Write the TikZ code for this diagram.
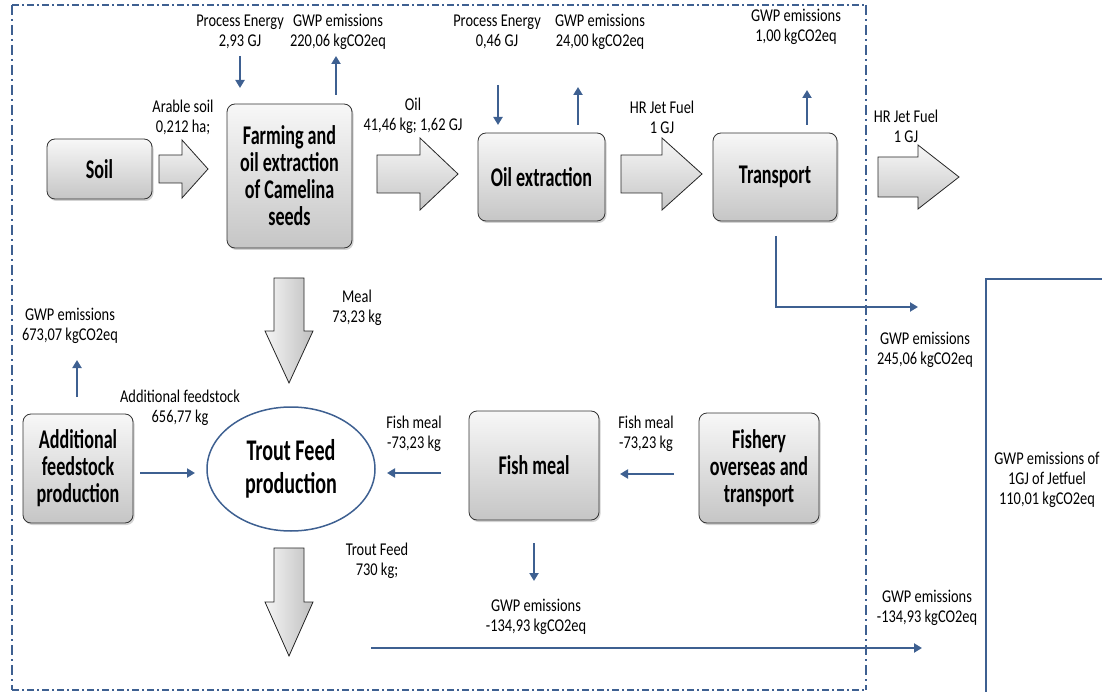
\documentclass[tikz,border=0pt]{standalone}
\usepackage{fontspec}
\setmainfont{Carlito}[FakeStretch=0.8]
\newfontfamily\boxfont{Carlito}[FakeStretch=0.67]
\usetikzlibrary{arrows.meta,shadows,shapes.geometric}
\definecolor{flow}{RGB}{62,96,145}
\tikzset{
  procbox/.style={draw=black!80, line width=0.8pt, rounded corners=8pt,
    top color=gray!6, bottom color=gray!45,
    drop shadow={opacity=0.35, shadow xshift=1.5pt, shadow yshift=-2pt},
    align=center, inner sep=0pt, font=\boxfont\bfseries\fontsize{27}{27}\selectfont},
  lbl/.style={align=center, inner sep=0pt, font=\fontsize{18}{20}\selectfont},
  flowarrow/.style={draw=flow, line width=2pt, -{Triangle[length=8pt,width=9pt]}},
  flowline/.style={draw=flow, line width=2pt},
  hblock/.style={draw=black!85, line width=0.8pt, top color=gray!6, bottom color=gray!45},
  vblock/.style={draw=black!85, line width=0.8pt, left color=gray!8, right color=gray!50},
  hborder/.style={draw=flow, line width=1.8pt, dash pattern=on 7pt off 3pt on 2pt off 3pt},
  vborder/.style={draw=flow, line width=1.8pt, dash pattern=on 10pt off 4pt on 2pt off 4pt},
}
\begin{document}
\begin{tikzpicture}[x=1pt, y=-1pt]
\useasboundingbox (0,0) rectangle (1102,692);

% system boundary (dash-dot frame)
\draw[hborder] (12,5) -- (866,5);
\draw[hborder] (12,690) -- (866,690);
\draw[vborder] (12,5) -- (12,690);
\draw[vborder] (866,5) -- (866,690);

% process boxes
\node[procbox, minimum width=105pt, minimum height=60pt] (soil) at (99.5,169) {Soil};
\node[procbox, minimum width=125pt, minimum height=144pt] (farm) at (289.5,176)
  {Farming and\\oil extraction\\of Camelina\\seeds};
\node[procbox, minimum width=127pt, minimum height=88pt] (oilx) at (541.5,177) {Oil extraction};
\node[procbox, minimum width=124pt, minimum height=88pt] (transp) at (775,177) {Transport};
\node[procbox, minimum width=110pt, minimum height=109pt] (addfeed) at (78,468.5)
  {Additional\\feedstock\\production};
\node[procbox, minimum width=130pt, minimum height=109pt] (fishmeal) at (534,465.5) {Fish meal};
\node[procbox, minimum width=120pt, minimum height=110pt] (fishery) at (759,468)
  {Fishery\\overseas and\\transport};
\node[draw=flow, line width=1.5pt, ellipse, minimum width=168pt, minimum height=124pt,
  inner sep=0pt, align=center, font=\boxfont\bfseries\fontsize{30}{33}\selectfont]
  (trout) at (291,469) {Trout Feed\\production};

% block arrows for the main material flows
\path[hblock] (159,155) -- (182,155) -- (182,140) -- (208,169) -- (182,198) -- (182,183) -- (159,183) -- cycle;
\path[hblock] (377,155) -- (420,155) -- (420,138) -- (458,174) -- (420,210) -- (420,193) -- (377,193) -- cycle;
\path[hblock] (621,155) -- (662,155) -- (662,138) -- (702,174) -- (662,210) -- (662,193) -- (621,193) -- cycle;
\path[hblock] (878,157) -- (918,157) -- (918,145) -- (959,177) -- (918,209) -- (918,197) -- (878,197) -- cycle;
\path[vblock] (274,278) -- (304,278) -- (304,331) -- (313,331) -- (289,383) -- (265,331) -- (274,331) -- cycle;
\path[vblock] (274,548) -- (304,548) -- (304,602) -- (313,602) -- (289,656) -- (265,602) -- (274,602) -- cycle;

% flow labels
\node[lbl] (pe1) at (240,32) {Process Energy\\2,93 GJ};
\node[lbl] (gwp1) at (338,32) {GWP emissions\\220,06 kgCO2eq};
\node[lbl] (pe2) at (497,32) {Process Energy\\0,46 GJ};
\node[lbl] (gwp2) at (600,32) {GWP emissions\\24,00 kgCO2eq};
\node[lbl] (gwp3) at (796,27) {GWP emissions\\1,00 kgCO2eq};
\node[lbl] (arable) at (183,117) {Arable soil\\0,212 ha;};
\node[lbl] (oil) at (413,116) {Oil\\41,46 kg; 1,62 GJ};
\node[lbl] (hr1) at (662,117) {HR Jet Fuel\\1 GJ};
\node[lbl] (hr2) at (906,126) {HR Jet Fuel\\1 GJ};
\node[lbl] (gwpt) at (925,350) {GWP emissions\\245,06 kgCO2eq};
\node[lbl] (total) at (1047,480) {GWP emissions of\\1GJ of Jetfuel\\110,01 kgCO2eq};
\node[lbl] (gwpf2) at (927,608) {GWP emissions\\-134,93 kgCO2eq};
\node[lbl] (gwpf1) at (536,617) {GWP emissions\\-134,93 kgCO2eq};
\node[lbl] (tfeed) at (377,561) {Trout Feed\\730 kg;};
\node[lbl] (fm1) at (414,434) {Fish meal\\-73,23 kg};
\node[lbl] (fm2) at (646,434) {Fish meal\\-73,23 kg};
\node[lbl] (addl) at (180,408) {Additional feedstock\\656,77 kg};
\node[lbl] (gwpa) at (70,326) {GWP emissions\\673,07 kgCO2eq};
\node[lbl] (meal) at (357,308) {Meal\\73,23 kg};

% end points of the energy and emission flows
\coordinate (pe1a) at (240,56);  \coordinate (pe1b) at (240,88);
\coordinate (g1a) at (336,95);   \coordinate (g1b) at (336,56);
\coordinate (pe2a) at (498,85);  \coordinate (pe2b) at (498,125);
\coordinate (g2a) at (578,125);  \coordinate (g2b) at (578,87);
\coordinate (g3a) at (807,125);  \coordinate (g3b) at (807,90);
\coordinate (gta) at (776,236);  \coordinate (gtc) at (776,307); \coordinate (gtb) at (918,307);
\coordinate (gaa) at (77,397);   \coordinate (gab) at (77,360);
\coordinate (afa) at (140,473);  \coordinate (afb) at (195,473);
\coordinate (fma) at (441,473);  \coordinate (fmb) at (387,473);
\coordinate (fya) at (674,474);  \coordinate (fyb) at (620,474);
\coordinate (gfa) at (534,543);  \coordinate (gfb) at (534,581);
\coordinate (bla) at (371,648);  \coordinate (blb) at (922,648);
\coordinate (bra) at (1102,279); \coordinate (brc) at (986,279); \coordinate (brb) at (986,692);

\draw[flowarrow] (pe1a) -- (pe1b);
\draw[flowarrow] (g1a) -- (g1b);
\draw[flowarrow] (pe2a) -- (pe2b);
\draw[flowarrow] (g2a) -- (g2b);
\draw[flowarrow] (g3a) -- (g3b);
\draw[flowarrow] (gta) -- (gtc) -- (gtb);
\draw[flowarrow] (gaa) -- (gab);
\draw[flowarrow] (afa) -- (afb);
\draw[flowarrow] (fma) -- (fmb);
\draw[flowarrow] (fya) -- (fyb);
\draw[flowarrow] (gfa) -- (gfb);
\draw[flowarrow] (bla) -- (blb);
\draw[flowline] (bra) -- (brc) -- (brb);
\end{tikzpicture}
\end{document}
